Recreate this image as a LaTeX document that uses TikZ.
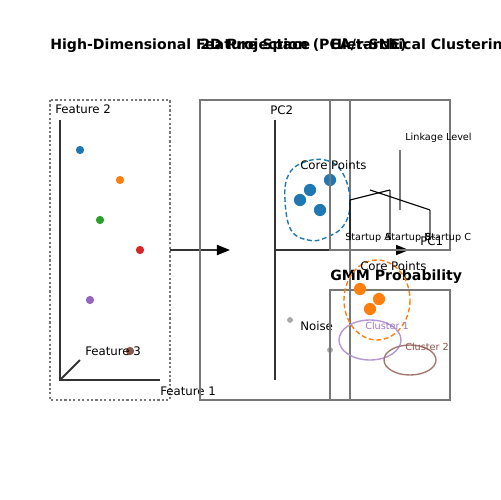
\documentclass[tikz,border=0pt]{standalone}
\usepackage{fontspec}
\setmainfont{DejaVu Sans}
\usetikzlibrary{arrows.meta}
\definecolor{tabblue}{HTML}{1F77B4}
\definecolor{taborange}{HTML}{FF7F0E}
\definecolor{tabgreen}{HTML}{2CA02C}
\definecolor{tabred}{HTML}{D62728}
\definecolor{tabpurple}{HTML}{9467BD}
\definecolor{tabbrown}{HTML}{8C564B}
\definecolor{framegray}{HTML}{777777}
\definecolor{axisgray}{HTML}{333333}
\definecolor{noisegray}{HTML}{AAAAAA}
\tikzset{
  lbl/.style={anchor=base west, inner sep=0pt, font=\fontsize{8.5}{10}\selectfont},
  smalllbl/.style={anchor=base west, inner sep=0pt, font=\fontsize{7}{8.5}\selectfont},
  ttl/.style={anchor=base west, inner sep=0pt, font=\fontsize{10.2}{12}\selectfont\bfseries},
  frame/.style={draw=framegray, line width=1.1pt},
  axis/.style={draw=axisgray, line width=1.4pt},
  dot/.style={circle, inner sep=0pt, minimum size=2.1mm},
  bigdot/.style={circle, inner sep=0pt, minimum size=3.1mm},
  noisedot/.style={circle, inner sep=0pt, minimum size=1.5mm, fill=noisegray},
  tip/.style={-{Triangle[length=9.4pt,width=7.2pt,color=black]}}
}
\begin{document}
\begin{tikzpicture}[x=0.254mm,y=-0.254mm]
\useasboundingbox (0,0) rectangle (500,500);
% titles
\node[ttl] (t1) at (50,50) {High-Dimensional Feature Space};
\node[ttl] (t2) at (200,50) {2D Projection (PCA/t-SNE)};
\node[ttl] (t3) at (330,50) {Hierarchical Clustering};
% high-dimensional space
\draw[draw=framegray, line width=1.1pt, dash pattern=on 1.6pt off 1.6pt] (50,100) rectangle (170,400);
\coordinate (o1) at (60,380);
\coordinate (f2end) at (60,120);
\coordinate (f1end) at (160,380);
\coordinate (f3end) at (80,360);
\draw[axis] (f2end) -- (o1) -- (f1end);
\draw[axis] (o1) -- (f3end);
\node[lbl] (f2) at (55,114) {Feature 2};
\node[lbl] (f1) at (160,395) {Feature 1};
\node[dot, fill=tabblue] (p1) at (80,150) {};
\node[dot, fill=taborange] (p2) at (120,180) {};
\node[dot, fill=tabgreen] (p3) at (100,220) {};
\node[dot, fill=tabred] (p4) at (140,250) {};
\node[dot, fill=tabpurple] (p5) at (90,300) {};
\node[dot, fill=tabbrown] (p6) at (130,351) {};
\node[lbl] (f3) at (85,355) {Feature 3};
% arrow to projection
\coordinate (a1) at (170,250);
\coordinate (a2) at (230,250);
\draw[axis, tip] (a1) -- (a2);
% 2D projection
\draw[frame] (200,100) rectangle (350,400);
\coordinate (o2) at (275,250);
\coordinate (pc2top) at (275,120);
\coordinate (pc2bot) at (275,380);
\coordinate (pc1end) at (424,250);
\coordinate (pc1tip) at (409,250);
\draw[axis] (pc2top) -- (pc2bot);
\draw[axis] (o2) -- (pc1end);
\draw[axis, tip] (o2) -- (pc1tip);
\node[lbl] (pc2) at (270,115) {PC2};
\node[lbl] (pc1) at (420,245.5) {PC1};
\draw[tabblue, line width=1pt, dash pattern=on 3.5pt off 2pt]
  plot[smooth cycle, tension=0.7] coordinates {(302,163) (325,160) (342,172) (350,200) (344,225) (325,238) (308,240) (291,230) (285,200) (288,176)};
\node[bigdot, fill=tabblue] (c1) at (300,200) {};
\node[bigdot, fill=tabblue] (c2) at (310,190) {};
\node[bigdot, fill=tabblue] (c3) at (330,180) {};
\node[bigdot, fill=tabblue] (c4) at (320,210) {};
\node[lbl] (core1) at (300,170) {Core Points};
\node[noisedot] (n1) at (290,320) {};
\node[noisedot] (n2) at (330,350) {};
\node[lbl] (noise) at (300,330) {Noise};
% hierarchical clustering
\draw[frame] (330,100) rectangle (450,250);
\coordinate (la) at (350,240);
\coordinate (ja) at (350,200);
\coordinate (lb) at (390,240);
\coordinate (jb) at (390,190);
\coordinate (lc) at (430,240);
\coordinate (jc) at (430,210);
\coordinate (jab) at (370,190);
\coordinate (lvtop) at (400,150);
\coordinate (lvbot) at (400,210);
\draw[framegray, line width=1.4pt] (lb) -- (jb);
\draw[framegray, line width=1.4pt] (lc) -- (jc);
\draw[framegray, line width=1.4pt] (lvtop) -- (lvbot);
\draw[black, line width=0.8pt] (la) -- (ja) -- (jb);
\draw[black, line width=0.8pt] (jab) -- (jc);
\node[smalllbl] (lvl) at (405,140.5) {Linkage Level};
\node[smalllbl] (sa) at (345,240.5) {Startup A};
\node[smalllbl] (sb) at (385,240.5) {Startup B};
\node[smalllbl] (sc) at (425,240.5) {Startup C};
% GMM
\node[ttl] (gmm) at (330,280) {GMM Probability};
\draw[frame] (330,290) rectangle (450,400);
\draw[taborange, line width=1pt, dash pattern=on 3.5pt off 2pt] (377,300) ellipse [x radius=33, y radius=40];
\node[bigdot, fill=taborange] (g1) at (360,289) {};
\node[bigdot, fill=taborange] (g2) at (379,299) {};
\node[bigdot, fill=taborange] (g3) at (370,309) {};
\node[lbl] (core2) at (360,270) {Core Points};
\draw[tabpurple!70, line width=1pt] (370,340) ellipse [x radius=31, y radius=20];
\draw[tabbrown!80, line width=1pt] (410,360) ellipse [x radius=26, y radius=15];
\node[smalllbl, text=tabpurple!90] (cl1) at (365,329.5) {Cluster 1};
\node[smalllbl, text=tabbrown] (cl2) at (405,350.5) {Cluster 2};
\end{tikzpicture}
\end{document}
